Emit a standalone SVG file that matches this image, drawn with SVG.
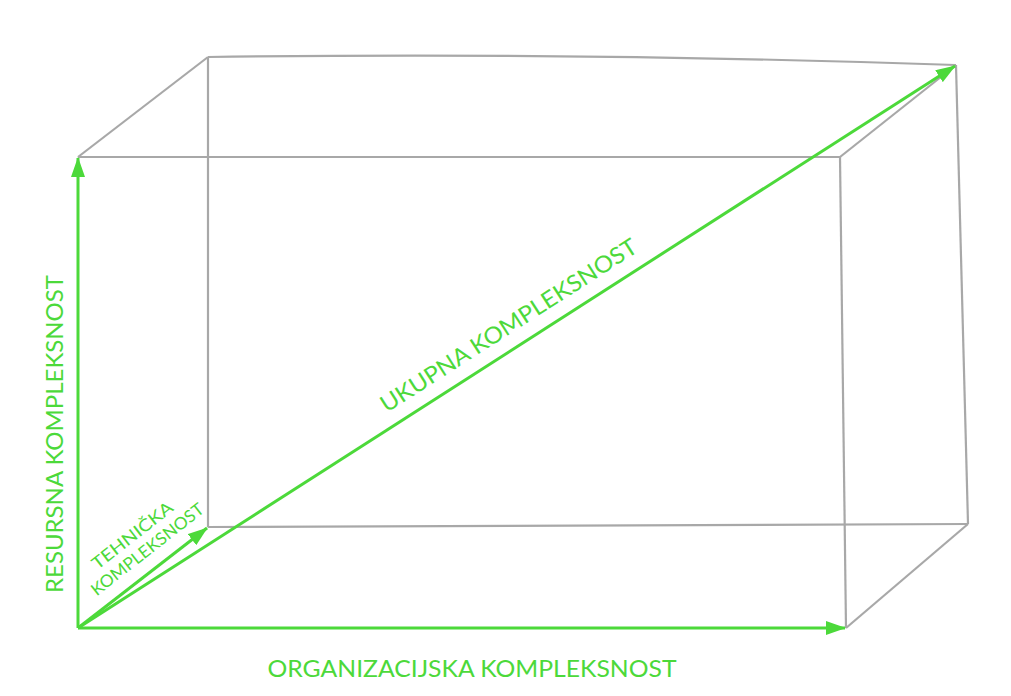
<svg xmlns="http://www.w3.org/2000/svg" width="1011" height="696" viewBox="0 0 1011 696">
<defs>
<marker id="ah" viewBox="0 0 20 14" refX="19" refY="7" markerWidth="20" markerHeight="14" orient="auto" markerUnits="userSpaceOnUse">
<path d="M0,0 L20,7 L0,14 z" fill="#4cd93a"/>
</marker>
<style>
.edge{fill:none;stroke:#a8a8a8;stroke-width:2.2}
.arr{fill:none;stroke:#4cd93a;stroke-width:3;marker-end:url(#ah)}
.lbl{fill:#4cd93a;font-family:"Lato","Open Sans",sans-serif;font-size:23px}
.sm{fill:#4cd93a;font-family:"Lato","Open Sans",sans-serif;font-size:17px}
</style>
</defs>
<rect width="1011" height="696" fill="#ffffff"/>
<g id="box">
<path class="edge" d="M208,57 Q580,52 956,65"/>
<path class="edge" d="M208,57 L208,527"/>
<path class="edge" d="M956,65 L968,524"/>
<path class="edge" d="M208,527 L968,524"/>
<path class="edge" d="M78,157 L840,157"/>
<path class="edge" d="M840,157 L846,628"/>
<path class="edge" d="M78,157 L208,57"/>
<path class="edge" d="M840,157 L956,65"/>
<path class="edge" d="M846,628 L968,524"/>
</g>
<g id="connectors">
<path class="arr" d="M78,628 L78,158"/>
<path class="arr" d="M78,628 L845,628"/>
<path class="arr" d="M78,628 L955,66"/>
<path class="arr" d="M78,628 L207,528"/>
</g>
<g id="label-resursna">
<text class="lbl" transform="translate(63,434) rotate(-90)" text-anchor="middle" textLength="318" lengthAdjust="spacingAndGlyphs">RESURSNA KOMPLEKSNOST</text>
</g>
<g id="label-organizacijska">
<text class="lbl" x="472" y="677" text-anchor="middle" textLength="409" lengthAdjust="spacingAndGlyphs">ORGANIZACIJSKA KOMPLEKSNOST</text>
</g>
<g id="label-ukupna">
<text class="lbl" transform="translate(513,332) rotate(-32.7)" text-anchor="middle" textLength="300" lengthAdjust="spacingAndGlyphs">UKUPNA KOMPLEKSNOST</text>
</g>
<g id="label-tehnicka">
<text class="sm" transform="translate(136,540) rotate(-38)" text-anchor="middle" textLength="98" lengthAdjust="spacingAndGlyphs">TEHNIČKA</text>
<text class="sm" transform="translate(151,554) rotate(-38)" text-anchor="middle" textLength="138" lengthAdjust="spacingAndGlyphs">KOMPLEKSNOST</text>
</g>
</svg>
